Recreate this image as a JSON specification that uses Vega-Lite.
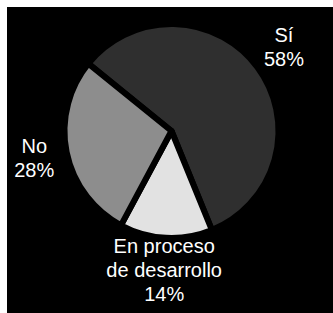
{
  "$schema": "https://vega.github.io/schema/vega-lite/v6.json",
  "width": 326,
  "height": 306,
  "padding": {"left": 7, "top": 7, "right": 0, "bottom": 0},
  "autosize": {"type": "none"},
  "background": "white",
  "view": {"fill": "black", "stroke": null},
  "data": {
    "values": [
      {"categoria": "Sí", "porcentaje": 58, "orden": 1, "etiqueta": "Sí\n58%"},
      {"categoria": "En proceso de desarrollo", "porcentaje": 14, "orden": 2, "etiqueta": "En proceso\nde desarrollo\n14%"},
      {"categoria": "No", "porcentaje": 28, "orden": 3, "etiqueta": "No\n28%"}
    ]
  },
  "encoding": {
    "theta": {"field": "porcentaje", "type": "quantitative", "stack": true, "scale": {"range": [5.3931, 11.6763]}},
    "order": {"field": "orden", "type": "quantitative"}
  },
  "layer": [
    {
      "mark": {"type": "arc", "outerRadius": 107, "stroke": "black", "strokeWidth": 6, "strokeJoin": "round", "x": {"expr": "width/2 + 1.5"}, "y": {"expr": "height/2 - 29"}},
      "encoding": {
        "color": {"field": "categoria", "type": "nominal", "legend": null,
          "scale": {"domain": ["Sí", "En proceso de desarrollo", "No"], "range": ["#2f2f2f", "#e2e2e2", "#8d8d8d"]}}
      }
    },
    {
      "mark": {"type": "text", "radius": 140, "lineBreak": "\n", "fontSize": 20, "lineHeight": 24, "font": "Liberation Sans", "color": "white", "align": "center", "baseline": "middle", "x": {"expr": "width/2 + 1.5"}, "y": {"expr": "height/2 - 29"}, "dy": {"expr": "-(length(split(datum.etiqueta, '\\n')) - 1) * 12"}},
      "encoding": {
        "text": {"field": "etiqueta", "type": "nominal"}
      }
    }
  ]
}
